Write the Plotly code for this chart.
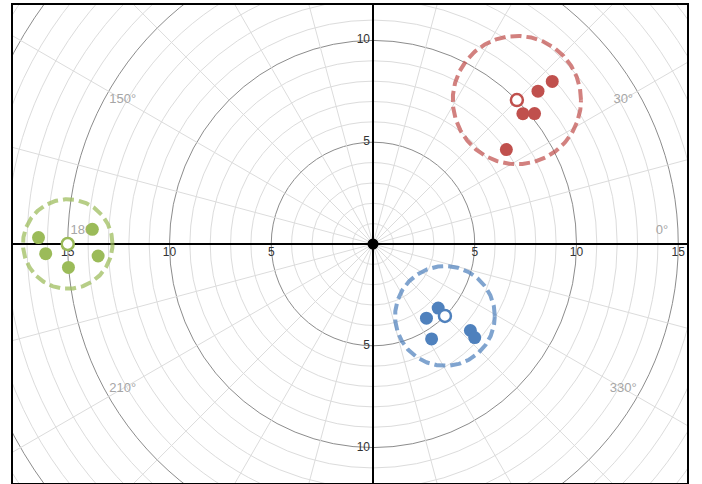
import numpy as np
import plotly.graph_objects as go

# ---- data (polar: radius, angle in degrees) ----
red_r = [11.89, 11.05, 9.76, 10.20, 8.03]
red_theta = [42.2, 42.8, 41.0, 38.9, 35.3]
green_r = [16.44, 16.09, 15.01, 13.52, 13.81]
green_theta = [178.9, 181.7, 184.4, 182.5, 177.0]
blue_r = [4.49, 4.49, 5.48, 6.40, 6.79]
blue_theta = [315.5, 305.8, 301.7, 318.4, 317.4]

# cluster centres and spread radii
center_r = [10, 15, 5]
center_theta = [45, 180, 315]
spread = [3.15, 2.2, 2.45]

colors = ["#c0504d", "#9bbb59", "#4f81bd"]
ring_colors = ["rgba(192,80,77,0.72)", "rgba(155,187,89,0.72)", "rgba(79,129,189,0.72)"]

# axis tick labels
tick_values = [5, 10, 15]
angle_labels = [0, 30, 150, 180, 210, 330]

# grid
grid_radii = list(range(1, 23))
major_radii = [5, 10, 15, 20]
spoke_angles = list(range(0, 360, 15))

PX = 1 / 20.35  # one screen pixel in data units


def to_xy(r, theta):
    t = np.radians(np.asarray(theta, dtype=float))
    r = np.asarray(r, dtype=float)
    return r * np.cos(t), r * np.sin(t)


fig = go.Figure()

# polar grid as shapes behind everything
shapes = []
for rr in grid_radii:
    major = rr in major_radii
    shapes.append(dict(type="circle", xref="x", yref="y", x0=-rr, y0=-rr, x1=rr, y1=rr,
                       line=dict(color="#8c8c8c" if major else "#dcdcdc", width=1),
                       layer="below"))
for a in spoke_angles:
    ex, ey = to_xy(30, a)
    shapes.append(dict(type="line", xref="x", yref="y", x0=0, y0=0, x1=float(ex), y1=float(ey),
                       line=dict(color="#dcdcdc", width=1), layer="below"))

label_font = dict(family="Liberation Sans, Arial", size=12, color="#333333")

# tick labels along the axes (drawn beneath markers)
xt_x, xt_s = [], []
for v in tick_values:
    for sgn in (-1, 1):
        xt_x.append(sgn * v); xt_s.append(str(v))
fig.add_trace(go.Scatter(x=xt_x, y=[-9 * PX] * len(xt_x), text=xt_s, mode="text",
                         textposition="middle center", textfont=label_font,
                         hoverinfo="skip", showlegend=False))
yt_y, yt_s = [], []
for v in tick_values[:2]:
    for sgn in (-1, 1):
        yt_y.append(sgn * v); yt_s.append(str(v))
fig.add_trace(go.Scatter(x=[-3 * PX] * len(yt_y), y=yt_y, text=yt_s, mode="text",
                         textposition="middle left", textfont=label_font,
                         hoverinfo="skip", showlegend=False))

# angle labels
ax_, ay_ = to_xy([14.2] * len(angle_labels), angle_labels)
ay_ = np.where(np.isclose(ay_, 0, atol=0.01), ay_ + 13 * PX, ay_)
fig.add_trace(go.Scatter(x=ax_, y=ay_, text=[f"{a}°" for a in angle_labels], mode="text",
                         textposition="middle center",
                         textfont=dict(family="Liberation Sans, Arial", size=13, color="#a6a6a6"),
                         hoverinfo="skip", showlegend=False))

# dashed spread rings
ring_t = np.linspace(0, 2 * np.pi, 361)
for cr, ct, sp, rc in zip(center_r, center_theta, spread, ring_colors):
    cx, cy = to_xy(cr, ct)
    fig.add_trace(go.Scatter(x=cx + sp * np.cos(ring_t), y=cy + sp * np.sin(ring_t), mode="lines",
                             line=dict(color=rc, width=4, dash="11px,5px"),
                             hoverinfo="skip", showlegend=False))

# cluster points
for rs, ts, c in zip([red_r, green_r, blue_r], [red_theta, green_theta, blue_theta], colors):
    px, py = to_xy(rs, ts)
    fig.add_trace(go.Scatter(x=px, y=py, mode="markers",
                             marker=dict(size=13, color=c, line=dict(width=0)),
                             showlegend=False))

# cluster centres (hollow)
for cr, ct, c in zip(center_r, center_theta, colors):
    cx, cy = to_xy(cr, ct)
    fig.add_trace(go.Scatter(x=[cx], y=[cy], mode="markers",
                             marker=dict(size=12, color="white", line=dict(width=2.5, color=c)),
                             showlegend=False))

# origin
fig.add_trace(go.Scatter(x=[0], y=[0], mode="markers", marker=dict(size=11, color="black"),
                         showlegend=False))

fig.update_layout(
    width=702, height=484,
    margin=dict(l=13, r=15, t=5, b=1),
    paper_bgcolor="white", plot_bgcolor="white",
    shapes=shapes,
    xaxis=dict(range=[-17.69, 15.43], showgrid=False, zeroline=True, zerolinecolor="black",
               zerolinewidth=2, showticklabels=False, ticks="", showline=True, mirror=True,
               linecolor="black", linewidth=2, fixedrange=True),
    yaxis=dict(range=[-11.74, 11.74], showgrid=False, zeroline=True, zerolinecolor="black",
               zerolinewidth=2, showticklabels=False, ticks="", showline=True, mirror=True,
               linecolor="black", linewidth=2, fixedrange=True),
)

fig.write_html("out.html")
